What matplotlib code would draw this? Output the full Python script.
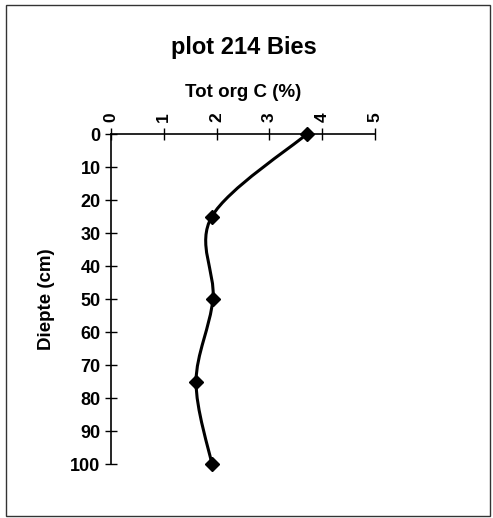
import numpy as np
import matplotlib.pyplot as plt
from matplotlib.path import Path
from matplotlib.patches import PathPatch, Rectangle

plt.rcParams['font.family'] = ['Liberation Sans', 'DejaVu Sans']
plt.rcParams['font.weight'] = 'bold'

# data
depth = [0, 25, 50, 75, 100]
org_c = [3.71, 1.91, 1.93, 1.61, 1.91]
x_ticks = [0, 1, 2, 3, 4, 5]
y_ticks = [0, 10, 20, 30, 40, 50, 60, 70, 80, 90, 100]

fig = plt.figure(figsize=(4.93, 5.18), dpi=100)
fig.patches.append(Rectangle((6 / 493, 2 / 518), 484 / 493, 511 / 518, transform=fig.transFigure,
                             fill=False, edgecolor='#333333', linewidth=1.0))

ax = fig.add_axes([0.2252, 0.1042, 0.5355, 0.6371])
ax.set_xlim(0, 5)
ax.set_ylim(100, 0)

# smooth line (Excel style) via Catmull-Rom -> Bezier in display space
fig.canvas.draw()
pts = ax.transData.transform(np.column_stack([org_c, depth]))
verts = [pts[0]]
codes = [Path.MOVETO]
n = len(pts)
for i in range(n - 1):
    p0 = pts[max(i - 1, 0)]
    p1 = pts[i]
    p2 = pts[i + 1]
    p3 = pts[min(i + 2, n - 1)]
    c1 = p1 + (p2 - p0) / 6
    c2 = p2 - (p3 - p1) / 6
    verts += [c1, c2, p2]
    codes += [Path.CURVE4] * 3
path = Path(ax.transData.inverted().transform(np.array(verts)), codes)
ax.add_patch(PathPatch(path, fill=False, edgecolor='black', linewidth=2.2, zorder=3))
ax.plot(org_c, depth, linestyle='none', marker='D', markersize=7, color='black', zorder=4,
        clip_on=False)

ax.xaxis.tick_top()
ax.xaxis.set_label_position('top')
ax.set_xticks(x_ticks)
ax.set_yticks(y_ticks)
ax.set_xticklabels([str(v) for v in x_ticks], rotation=90, fontsize=12.5)
ax.set_yticklabels([str(v) for v in y_ticks], fontsize=13)
ax.tick_params(direction='inout', length=9, width=1, color='black', pad=3)
ax.tick_params(axis='x', pad=4)
for s in ['right', 'bottom']:
    ax.spines[s].set_visible(False)
for s in ['left', 'top']:
    ax.spines[s].set_linewidth(1.2)

ax.set_xlabel('Tot org C (%)', fontsize=13.5, fontweight='bold', labelpad=11)
ax.set_ylabel('Diepte (cm)', fontsize=13.5, fontweight='bold', labelpad=11)
fig.text(0.4955, 0.9075, 'plot 214 Bies', ha='center', va='center', fontsize=17, fontweight='bold')

fig.savefig('out.png', dpi=100)
